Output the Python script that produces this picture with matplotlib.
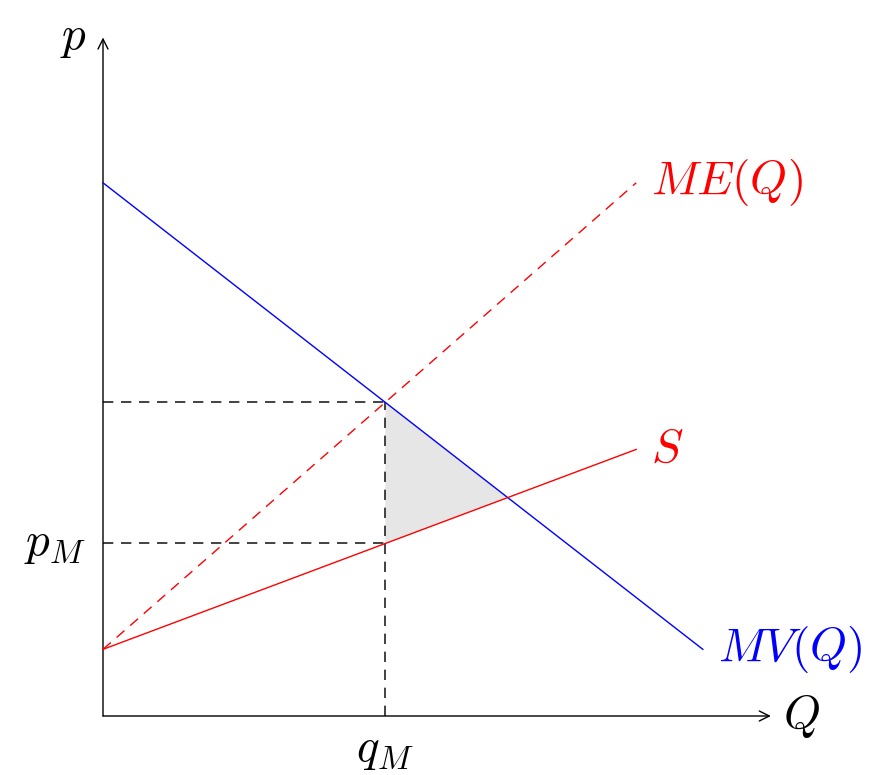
import matplotlib.pyplot as plt
from matplotlib.patches import Polygon

plt.rcParams['mathtext.fontset'] = 'cm'

# curvas (extremos en unidades del grafico)
mv_x = [0, 9]
mv_y = [8, 1]
s_x = [0, 8]
s_y = [1, 4]
me_x = [0, 8]
me_y = [1, 8]

# etiquetas
lbl_mv = r'$MV(Q)$'
lbl_me = r'$ME(Q)$'
lbl_s = r'$S$'


def recta(xs, ys):
    m = (ys[1] - ys[0]) / (xs[1] - xs[0])
    return m, ys[0] - m * xs[0]


def corte(a, b):
    m1, b1 = a
    m2, b2 = b
    x = (b2 - b1) / (m1 - m2)
    return x, m1 * x + b1


mv = recta(mv_x, mv_y)
s = recta(s_x, s_y)
me = recta(me_x, me_y)

q_m, p_top = corte(mv, me)
p_m = s[0] * q_m + s[1]
x_ms, y_ms = corte(mv, s)

unidad = 66.65
fig = plt.figure(figsize=(8.82, 7.75), dpi=100)
ax = fig.add_axes([0, 0, 1, 1])
ax.set_xlim(-103 / unidad, (882 - 103) / unidad)
ax.set_ylim(-(775 - 716) / unidad, 716 / unidad)
ax.axis('off')

# ejes
flecha = dict(arrowstyle='->', lw=1.0, color='black', shrinkA=0, shrinkB=0,
              mutation_scale=18)
ax.annotate('', xy=(10.02, 0), xytext=(0, 0), arrowprops=flecha)
ax.annotate('', xy=(0, 10.18), xytext=(0, 0), arrowprops=flecha)

# area sombreada
tri = Polygon([(q_m, p_top), (q_m, p_m), (x_ms, y_ms)], closed=True,
              facecolor='#e6e6e6', edgecolor='none', zorder=1)
ax.add_patch(tri)

# lineas punteadas de referencia
guion = dict(color='#222222', lw=1.2, dashes=(6.2, 4.6), zorder=2)
ax.plot([0, q_m], [p_top, p_top], **guion)
ax.plot([0, q_m], [p_m, p_m], **guion)
ax.plot([q_m, q_m], [0, p_top], **guion)

# curvas
ax.plot(mv_x, mv_y, color='blue', lw=1.0, zorder=3)
ax.plot(s_x, s_y, color='red', lw=1.0, zorder=3)
ax.plot(me_x, me_y, color='red', lw=1.0, dashes=(7.5, 5.5), zorder=3)

fs = 34
ax.text(mv_x[1] + 0.22, mv_y[1], lbl_mv, color='blue', fontsize=fs,
        ha='left', va='center')
ax.text(me_x[1] + 0.22, me_y[1], lbl_me, color='red', fontsize=fs,
        ha='left', va='center')
ax.text(s_x[1] + 0.22, s_y[1], lbl_s, color='red', fontsize=fs,
        ha='left', va='center')
ax.text(10.2, 0, r'$Q$', fontsize=fs, ha='left', va='center')
ax.text(-0.25, 10.18, r'$p$', fontsize=fs, ha='right', va='center')
ax.text(-0.25, p_m, r'$p_M$', fontsize=fs, ha='right', va='center')
ax.text(q_m, -0.17, r'$q_M$', fontsize=fs, ha='center', va='top')

fig.savefig('out.png', dpi=100)
